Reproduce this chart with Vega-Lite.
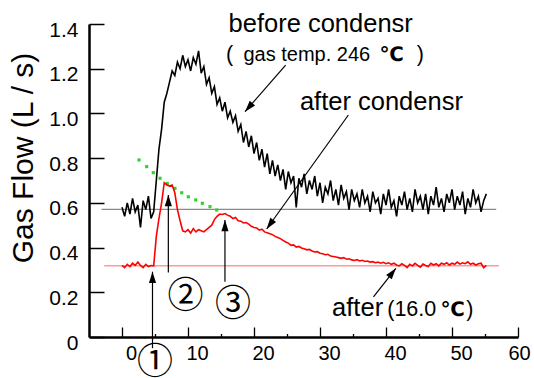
{
"$schema":"https://vega.github.io/schema/vega-lite/v6.json",
"width":429,"height":313,
"autosize":{"type":"none"},
"padding":{"left":89,"top":24,"right":16,"bottom":41},
"background":"white",
"config":{"view":{"stroke":null},"font":"Liberation Sans"},
"encoding":{
 "x":{"field":"x","type":"quantitative","scale":{"domain":[-5,60],"nice":false,"zero":false},
  "axis":{"values":[0,5,10,15,20,25,30,35,40,45,50,55,60],"labelExpr":"datum.value % 10 == 0 ? datum.label : ''",
   "tickSize":{"condition":{"test":"datum.value % 10 == 0","value":-10},"value":-3.5},
   "labelPadding":16.5,"labelOffset":{"condition":{"test":"datum.value == 60","value":1},"value":9},
   "labelFontSize":20,"labelFont":"Liberation Sans","labelColor":"black","domainColor":"black","domainWidth":2.5,
   "tickColor":"black","tickWidth":1.3,"grid":false,"title":null,"labelOverlap":false,"labelBound":false,"labelFlush":false}},
 "y":{"field":"y","type":"quantitative","scale":{"domain":[0,1.4],"nice":false,"zero":false},
  "axis":{"values":[0,0.2,0.4,0.6,0.8,1.0,1.2,1.4],"labelExpr":"datum.value == 0 ? '0' : format(datum.value, '.1f')",
   "tickSize":-15,"labelPadding":26,"labelOffset":6,"labelFontSize":21,"labelFont":"Liberation Sans","labelColor":"black",
   "domainColor":"black","domainWidth":2.5,"tickColor":"black","tickWidth":1.5,"grid":false,"labelOverlap":false,"labelBound":false,"labelFlush":false,
   "title":"Gas Flow (L / s)","titleFont":"Liberation Sans","titleFontSize":30,"titleFontWeight":"normal","titleColor":"black",
   "titleX":-66,"titleY":133.5,"titleAngle":270,"titleBaseline":"middle","titleAlign":"center"}}
},
"layer":[
 {"data":{"values":[{"x":-3.1,"x2":56.7,"y":0.571}]},"mark":{"type":"rule","color":"#8a8a8a","strokeWidth":1.2},"encoding":{"x2":{"field":"x2"}}},
 {"data":{"values":[{"x":-2.7,"x2":57.1,"y":0.319}]},"mark":{"type":"rule","color":"#ff9a9a","strokeWidth":1.5},"encoding":{"x2":{"field":"x2"}}},
 {"data":{"values":[{"x":2.58,"y":0.792},{"x":3.74,"y":0.762},{"x":4.74,"y":0.735},{"x":5.76,"y":0.71},{"x":6.86,"y":0.687},{"x":8.03,"y":0.665},{"x":9.05,"y":0.645},{"x":10.05,"y":0.627},{"x":11.17,"y":0.613},{"x":12.17,"y":0.598},{"x":13.33,"y":0.583},{"x":14.35,"y":0.568}]},
  "mark":{"type":"point","shape":"square","filled":true,"size":10,"color":"#2bd42b","opacity":1}},
 {"data":{"values":[
{"x":0.0,"b":0.58,"r":0.32},{"x":0.4,"b":0.54,"r":0.31},{"x":0.8,"b":0.60,"r":0.325},{"x":1.2,"b":0.55,"r":0.315},{"x":1.6,"b":0.62,"r":0.33},
{"x":2.0,"b":0.56,"r":0.32},{"x":2.4,"b":0.59,"r":0.335},{"x":2.8,"b":0.49,"r":0.32},{"x":3.2,"b":0.61,"r":0.31},{"x":3.6,"b":0.57,"r":0.325},
{"x":4.0,"b":0.63,"r":0.315},{"x":4.4,"b":0.53,"r":0.32},{"x":4.8,"b":0.56,"r":0.318},{"x":5.2,"b":0.70,"r":0.45},{"x":5.6,"b":0.84,"r":0.53},
{"x":6.0,"b":0.93,"r":0.60},{"x":6.4,"b":1.05,"r":0.69},{"x":6.8,"b":1.09,"r":0.68},{"x":7.2,"b":1.14,"r":0.675},{"x":7.6,"b":1.19,"r":0.68},
{"x":8.0,"b":1.17,"r":0.645},{"x":8.4,"b":1.23,"r":0.57},{"x":8.8,"b":1.20,"r":0.52},{"x":9.2,"b":1.26,"r":0.475},{"x":9.6,"b":1.21,"r":0.47},
{"x":10.0,"b":1.24,"r":0.48},{"x":10.4,"b":1.19,"r":0.465},{"x":10.8,"b":1.25,"r":0.485},{"x":11.2,"b":1.22,"r":0.47},{"x":11.6,"b":1.28,"r":0.48},
{"x":12.0,"b":1.18,"r":0.475},{"x":12.4,"b":1.21,"r":0.47},{"x":12.8,"b":1.13,"r":0.48},{"x":13.2,"b":1.16,"r":0.49},{"x":13.6,"b":1.09,"r":0.50},
{"x":14.0,"b":1.12,"r":0.525},{"x":14.4,"b":1.04,"r":0.54},{"x":14.8,"b":1.07,"r":0.55},{"x":15.2,"b":1.01,"r":0.548},{"x":15.6,"b":1.05,"r":0.552},
{"x":16.0,"b":0.98,"r":0.545},{"x":16.4,"b":1.01,"r":0.54},{"x":16.8,"b":0.96,"r":0.53},{"x":17.2,"b":0.99,"r":0.535},{"x":17.6,"b":0.92,"r":0.52},
{"x":18.0,"b":0.95,"r":0.518},{"x":18.4,"b":0.87,"r":0.51},{"x":18.8,"b":0.92,"r":0.512},{"x":19.2,"b":0.85,"r":0.505},{"x":19.6,"b":0.90,"r":0.495},
{"x":20.0,"b":0.82,"r":0.49},{"x":20.4,"b":0.87,"r":0.488},{"x":20.8,"b":0.79,"r":0.478},{"x":21.2,"b":0.84,"r":0.482},{"x":21.6,"b":0.76,"r":0.47},
{"x":22.0,"b":0.82,"r":0.466},{"x":22.4,"b":0.73,"r":0.462},{"x":22.8,"b":0.79,"r":0.458},{"x":23.2,"b":0.72,"r":0.45},{"x":23.6,"b":0.77,"r":0.445},
{"x":24.0,"b":0.70,"r":0.44},{"x":24.4,"b":0.75,"r":0.432},{"x":24.8,"b":0.66,"r":0.425},{"x":25.2,"b":0.74,"r":0.42},{"x":25.6,"b":0.69,"r":0.41},
{"x":26.0,"b":0.72,"r":0.412},{"x":26.4,"b":0.58,"r":0.402},{"x":26.8,"b":0.71,"r":0.405},{"x":27.2,"b":0.67,"r":0.398},{"x":27.6,"b":0.73,"r":0.395},
{"x":28.0,"b":0.64,"r":0.39},{"x":28.4,"b":0.70,"r":0.392},{"x":28.8,"b":0.66,"r":0.385},{"x":29.2,"b":0.72,"r":0.38},{"x":29.6,"b":0.63,"r":0.382},
{"x":30.0,"b":0.69,"r":0.375},{"x":30.4,"b":0.60,"r":0.372},{"x":30.8,"b":0.67,"r":0.368},{"x":31.2,"b":0.64,"r":0.37},{"x":31.6,"b":0.70,"r":0.362},
{"x":32.0,"b":0.61,"r":0.36},{"x":32.4,"b":0.66,"r":0.358},{"x":32.8,"b":0.59,"r":0.355},{"x":33.2,"b":0.68,"r":0.352},{"x":33.6,"b":0.62,"r":0.355},
{"x":34.0,"b":0.65,"r":0.348},{"x":34.4,"b":0.57,"r":0.35},{"x":34.8,"b":0.66,"r":0.345},{"x":35.2,"b":0.61,"r":0.342},{"x":35.6,"b":0.64,"r":0.346},
{"x":36.0,"b":0.58,"r":0.34},{"x":36.4,"b":0.66,"r":0.343},{"x":36.8,"b":0.60,"r":0.338},{"x":37.2,"b":0.63,"r":0.34},{"x":37.6,"b":0.56,"r":0.335},
{"x":38.0,"b":0.65,"r":0.337},{"x":38.4,"b":0.60,"r":0.332},{"x":38.8,"b":0.62,"r":0.335},{"x":39.2,"b":0.55,"r":0.33},{"x":39.6,"b":0.64,"r":0.334},
{"x":40.0,"b":0.59,"r":0.328},{"x":40.4,"b":0.66,"r":0.332},{"x":40.8,"b":0.58,"r":0.325},{"x":41.2,"b":0.61,"r":0.33},{"x":41.6,"b":0.54,"r":0.322},
{"x":42.0,"b":0.63,"r":0.318},{"x":42.4,"b":0.59,"r":0.328},{"x":42.8,"b":0.65,"r":0.32},{"x":43.2,"b":0.57,"r":0.31},{"x":43.6,"b":0.62,"r":0.325},
{"x":44.0,"b":0.56,"r":0.318},{"x":44.4,"b":0.66,"r":0.33},{"x":44.8,"b":0.60,"r":0.32},{"x":45.2,"b":0.63,"r":0.312},{"x":45.6,"b":0.57,"r":0.326},
{"x":46.0,"b":0.64,"r":0.32},{"x":46.4,"b":0.55,"r":0.315},{"x":46.8,"b":0.63,"r":0.33},{"x":47.2,"b":0.59,"r":0.322},{"x":47.6,"b":0.67,"r":0.328},
{"x":48.0,"b":0.58,"r":0.318},{"x":48.4,"b":0.62,"r":0.33},{"x":48.8,"b":0.56,"r":0.325},{"x":49.2,"b":0.64,"r":0.332},{"x":49.6,"b":0.60,"r":0.322},
{"x":50.0,"b":0.66,"r":0.33},{"x":50.4,"b":0.57,"r":0.325},{"x":50.8,"b":0.63,"r":0.335},{"x":51.2,"b":0.59,"r":0.326},{"x":51.6,"b":0.65,"r":0.332},
{"x":52.0,"b":0.55,"r":0.328},{"x":52.4,"b":0.62,"r":0.336},{"x":52.8,"b":0.58,"r":0.325},{"x":53.2,"b":0.66,"r":0.33},{"x":53.6,"b":0.60,"r":0.322},
{"x":54.0,"b":0.63,"r":0.328},{"x":54.4,"b":0.56,"r":0.33},{"x":54.8,"b":0.61,"r":0.31},{"x":55.2,"b":0.64,"r":0.32}
 ]},
  "transform":[{"fold":["b","r"],"as":["s","y"]}],
  "mark":{"type":"line","strokeWidth":1.6},
  "encoding":{"color":{"field":"s","type":"nominal","scale":{"domain":["b","r"],"range":["#000000","#ff0000"]},"legend":null}}},
 {"data":{"name":"arrows","values":[
   {"x":18.64,"y":1.008,"x2":24.8,"y2":1.216},
   {"x":21.92,"y":0.483,"x2":34.3,"y2":0.993},
   {"x":41.5,"y":0.307,"x2":38.1,"y2":0.18},
   {"x":4.62,"y":0.292,"x2":4.62,"y2":-0.05},
   {"x":7.02,"y":0.635,"x2":7.02,"y2":0.288},
   {"x":15.6,"y":0.523,"x2":15.6,"y2":0.247}]},
  "mark":{"type":"rule","color":"black","strokeWidth":1.2},
  "encoding":{"x2":{"field":"x2"},"y2":{"field":"y2"}}},
 {"data":{"name":"arrows"},
  "transform":[{"calculate":"atan2((datum.x - datum.x2) * 6.6, (datum.y - datum.y2) * 223.6) * 180 / PI","as":"ang"}],
  "mark":{"type":"point","shape":"M0,0L-0.32,1L0.32,1Z","filled":true,"size":500,"color":"black","opacity":1,"strokeWidth":0},
  "encoding":{"angle":{"field":"ang","type":"quantitative","scale":null}}},
 {"data":{"values":[{"t":"before condensr","x":30.1,"y":1.365},{"t":"after condensr","x":39.3,"y":1.015},{"t":"after","x":35.7,"y":0.093}]},
  "mark":{"type":"text","font":"Liberation Sans","fontSize":25.5,"align":"center","baseline":"alphabetic","color":"black"},
  "encoding":{"text":{"field":"t"}}},
 {"data":{"values":[{"t":"gas temp. 246","x":28.0,"y":1.234}]},
  "mark":{"type":"text","font":"Liberation Sans","fontSize":20,"align":"center","baseline":"alphabetic","color":"black"},
  "encoding":{"text":{"field":"t"}}},
 {"data":{"values":[{"t":"(","x":16.3,"y":1.234},{"t":")","x":45.2,"y":1.234},{"t":"(16.0","x":43.9,"y":0.093},{"t":")","x":52.7,"y":0.093}]},
  "mark":{"type":"text","font":"Liberation Sans","fontSize":21.5,"align":"center","baseline":"alphabetic","color":"black"},
  "encoding":{"text":{"field":"t"}}},
 {"data":{"values":[{"t":"℃","x":40.86,"y":1.234},{"t":"℃","x":50.08,"y":0.093}]},
  "mark":{"type":"text","font":"DejaVu Sans","fontSize":20,"fontWeight":"bold","align":"center","baseline":"alphabetic","color":"black"},
  "encoding":{"text":{"field":"t"}}},
 {"data":{"values":[{"t":"①","x":5.0,"y":-0.115},{"t":"②","x":9.62,"y":0.18},{"t":"③","x":16.8,"y":0.143}]},
  "mark":{"type":"text","font":"Noto Sans CJK JP","fontSize":36,"align":"center","baseline":"middle","color":"black"},
  "encoding":{"text":{"field":"t"}}}
]
}
